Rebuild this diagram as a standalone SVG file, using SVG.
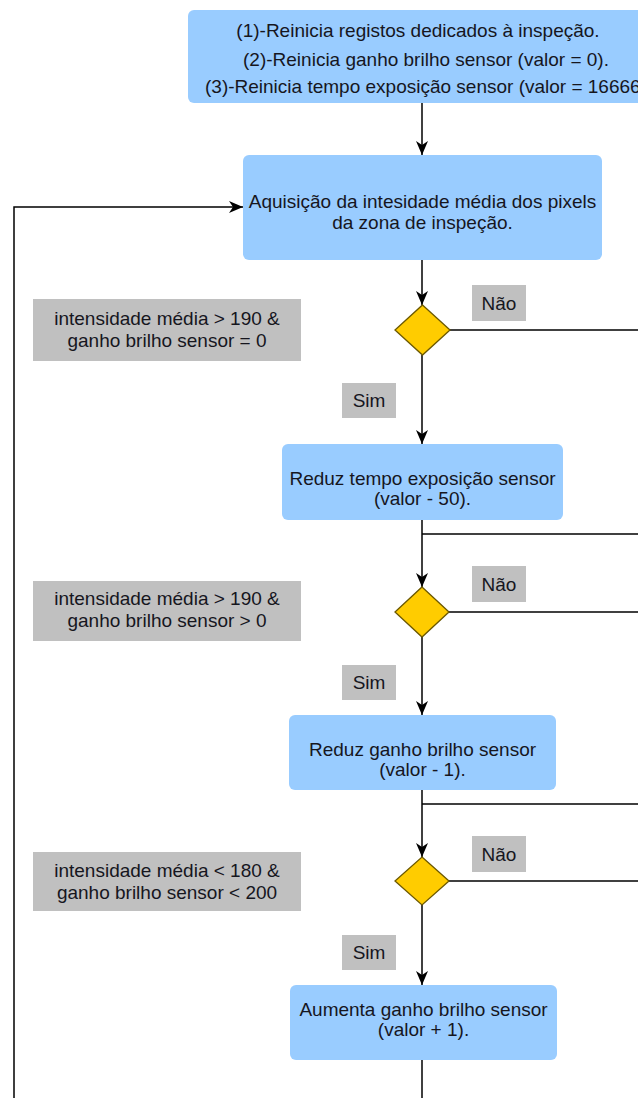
<svg xmlns="http://www.w3.org/2000/svg" width="638" height="1098" viewBox="0 0 638 1098">
<defs>
<style>
.box{fill:#99CCFF;}
.cond{fill:#C0C0C0;}
.dia{fill:#FFCC00;stroke:#6B5800;stroke-width:1.3;}
.t{font-family:"Liberation Sans",Arial,sans-serif;font-size:19px;fill:#16161E;}
.c{text-anchor:middle;}
.ln{fill:none;stroke:#000;stroke-width:1.5;}
</style>
<marker id="arr" markerUnits="userSpaceOnUse" markerWidth="14" markerHeight="14" viewBox="0 0 14 14" refX="14" refY="7" orient="auto">
<path d="M0,1 L14,7 L0,13 L4,7 Z" fill="#000"/>
</marker>
</defs>
<rect width="638" height="1098" fill="#FFFFFF"/>

<g id="connectors">
<path class="ln" d="M422,103 L422,155" marker-end="url(#arr)"/>
<path class="ln" d="M14,1098 L14,207 L243,207" marker-end="url(#arr)"/>
<path class="ln" d="M422,260 L422,305" marker-end="url(#arr)"/>
<path class="ln" d="M449.5,330 L640,330"/>
<path class="ln" d="M422,355 L422,444" marker-end="url(#arr)"/>
<path class="ln" d="M422,520 L422,587" marker-end="url(#arr)"/>
<path class="ln" d="M422,534 L640,534"/>
<path class="ln" d="M449,612 L640,612"/>
<path class="ln" d="M422,637 L422,715" marker-end="url(#arr)"/>
<path class="ln" d="M422,790 L422,857" marker-end="url(#arr)"/>
<path class="ln" d="M422,804 L640,804"/>
<path class="ln" d="M449,881 L640,881"/>
<path class="ln" d="M422,905 L422,985" marker-end="url(#arr)"/>
<path class="ln" d="M422,1060 L422,1098"/>
</g>

<g id="n-reset">
<rect class="box" x="188" y="10" width="480" height="93" rx="6"/>
<text class="t c" x="418" y="37">(1)-Reinicia registos dedicados à inspeção.</text>
<text class="t c" x="426" y="66">(2)-Reinicia ganho brilho sensor (valor = 0).</text>
<text class="t" x="205" y="93">(3)-Reinicia tempo exposição sensor (valor = 16666</text>
</g>

<g id="n-aquisicao">
<rect class="box" x="243" y="155" width="359" height="105" rx="6"/>
<text class="t c" x="422.5" y="208">Aquisição da intesidade média dos pixels</text>
<text class="t c" x="422.5" y="229">da zona de inspeção.</text>
</g>

<g id="n-dec1">
<polygon class="dia" points="422.5,305 450,330 422.5,355 395,330"/>
</g>
<g id="n-cond1">
<rect class="cond" x="33" y="299" width="268" height="62"/>
<text class="t c" x="167" y="325">intensidade média &gt; 190 &amp;</text>
<text class="t c" x="167" y="347">ganho brilho sensor = 0</text>
</g>
<g id="n-nao1">
<rect class="cond" x="472" y="285" width="54" height="36"/>
<text class="t c" x="499" y="310">Não</text>
</g>
<g id="n-sim1">
<rect class="cond" x="342" y="383" width="54" height="35"/>
<text class="t c" x="369" y="407">Sim</text>
</g>

<g id="n-reduz-tempo">
<rect class="box" x="282" y="444" width="281" height="76" rx="6"/>
<text class="t c" x="422.5" y="485">Reduz tempo exposição sensor</text>
<text class="t c" x="422.5" y="505">(valor - 50).</text>
</g>

<g id="n-dec2">
<polygon class="dia" points="422,587 449,612 422,637 395,612"/>
</g>
<g id="n-cond2">
<rect class="cond" x="33" y="581" width="268" height="60"/>
<text class="t c" x="167" y="605">intensidade média &gt; 190 &amp;</text>
<text class="t c" x="167" y="627">ganho brilho sensor &gt; 0</text>
</g>
<g id="n-nao2">
<rect class="cond" x="472" y="566" width="54" height="36"/>
<text class="t c" x="499" y="591">Não</text>
</g>
<g id="n-sim2">
<rect class="cond" x="342" y="665" width="54" height="35"/>
<text class="t c" x="369" y="689">Sim</text>
</g>

<g id="n-reduz-ganho">
<rect class="box" x="289" y="715" width="267" height="75" rx="6"/>
<text class="t c" x="422.5" y="756">Reduz ganho brilho sensor</text>
<text class="t c" x="422.5" y="776">(valor - 1).</text>
</g>

<g id="n-dec3">
<polygon class="dia" points="422,857 449,881 422,905 395,881"/>
</g>
<g id="n-cond3">
<rect class="cond" x="33" y="852" width="268" height="59"/>
<text class="t c" x="167" y="877">intensidade média &lt; 180 &amp;</text>
<text class="t c" x="167" y="899">ganho brilho sensor &lt; 200</text>
</g>
<g id="n-nao3">
<rect class="cond" x="472" y="836" width="54" height="36"/>
<text class="t c" x="499" y="861">Não</text>
</g>
<g id="n-sim3">
<rect class="cond" x="342" y="935" width="54" height="35"/>
<text class="t c" x="369" y="959">Sim</text>
</g>

<g id="n-aumenta-ganho">
<rect class="box" x="290" y="985" width="267" height="75" rx="6"/>
<text class="t c" x="423.5" y="1016">Aumenta ganho brilho sensor</text>
<text class="t c" x="423.5" y="1036">(valor + 1).</text>
</g>
</svg>
